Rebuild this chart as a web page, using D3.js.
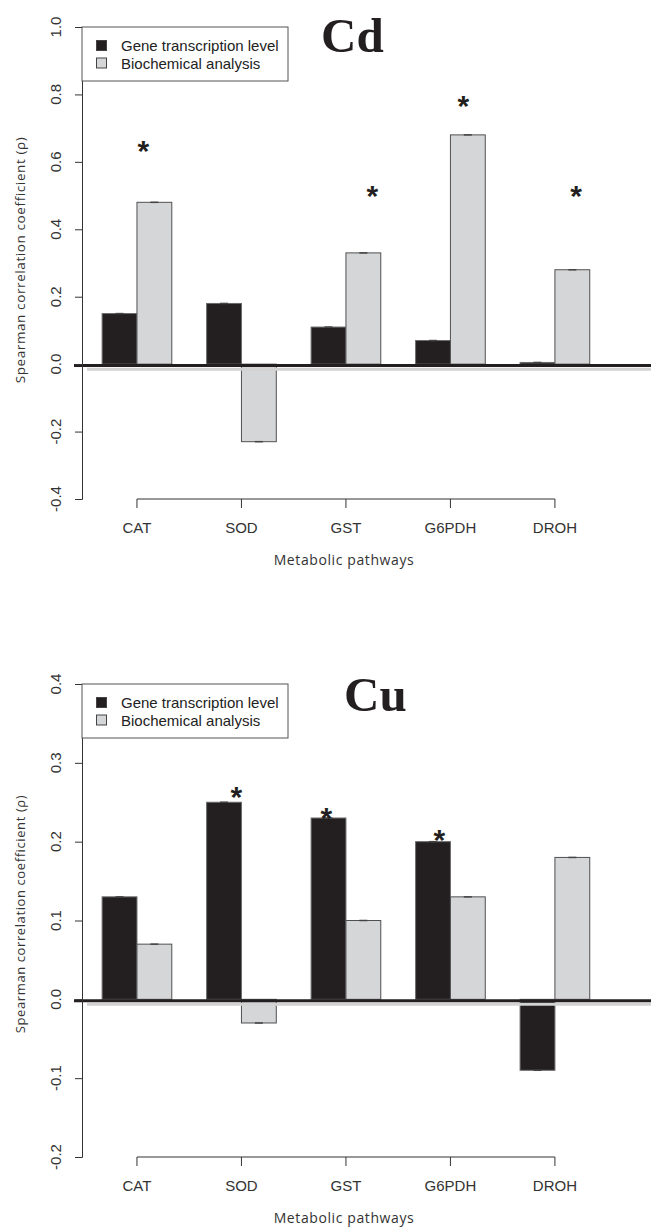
<!DOCTYPE html>
<html>
<head>
<meta charset="utf-8">
<script src="https://cdn.jsdelivr.net/npm/d3@7"></script>
<style>
  body { margin: 0; background: #fff; }
  .tick-label { font-family: "Liberation Sans", Arial, sans-serif; font-size: 15px; fill: #333; }
  .cat-label { font-family: "Liberation Sans", Arial, sans-serif; font-size: 15px; fill: #333; }
  .legend-text { font-family: "Liberation Sans", Arial, sans-serif; font-size: 15px; fill: #222; }
  .axis-title { font-family: "Open Sans", sans-serif; font-size: 14px; fill: #333; letter-spacing: 0.6px; }
  .panel-title { font-family: "Liberation Serif", "Times New Roman", serif; font-weight: bold; font-size: 49px; fill: #231f20; }
  .star { font-family: "Liberation Sans", Arial, sans-serif; font-weight: bold; font-size: 30px; fill: #231f20; }
</style>
</head>
<body>
<div id="chart"></div>
<script>
// data
var categories = ["CAT", "SOD", "GST", "G6PDH", "DROH"];
var seriesNames = ["Gene transcription level", "Biochemical analysis"];

var cdGene = [0.15, 0.18, 0.11, 0.07, 0.005];
var cdBiochem = [0.48, -0.23, 0.33, 0.68, 0.28];
var cdTicks = [-0.4, -0.2, 0.0, 0.2, 0.4, 0.6, 0.8, 1.0];
// stars: [x in bar units, height in rho]
var cdStars = [[2.18, 0.653], [8.76, 0.52], [11.37, 0.786], [14.61, 0.52]];

var cuGene = [0.13, 0.25, 0.23, 0.20, -0.09];
var cuBiochem = [0.07, -0.03, 0.10, 0.13, 0.18];
var cuTicks = [-0.2, -0.1, 0.0, 0.1, 0.2, 0.3, 0.4];
var cuStars = [[4.85, 0.265], [7.44, 0.239], [10.68, 0.211]];

var svgWidth = 651;
var svgHeight = 1228;
var fills = ["#231f20", "#d5d6d8"];

var svg = d3.select("#chart")
    .append("svg")
    .attr("width", svgWidth)
    .attr("height", svgHeight)
    .style("display", "block");

// bar units, R barplot style: width 1, one unit gap between groups
var xScale = d3.scaleLinear()
    .domain([0, 17])
    .range([67.3, 67.3 + 17 * 34.83]);

var axisX = 82;

function drawPanel(p) {
    var g = svg.append("g");
    var yScale = d3.scaleLinear()
        .domain([p.ticks[0], p.ticks[p.ticks.length - 1]])
        .range([p.bottom, p.top]);
    var y0 = yScale(0);

    // bars
    var rows = [];
    categories.forEach(function(c, i) {
        rows.push({cat: c, i: i, s: 0, v: p.gene[i]});
        rows.push({cat: c, i: i, s: 1, v: p.biochem[i]});
    });

    g.selectAll("rect.bar")
        .data(rows)
        .enter()
        .append("rect")
        .attr("class", "bar")
        .attr("x", d => xScale(1 + 3 * d.i + d.s))
        .attr("width", xScale(1) - xScale(0))
        .attr("y", d => Math.min(yScale(d.v), y0))
        .attr("height", d => Math.abs(yScale(d.v) - y0))
        .attr("fill", d => fills[d.s])
        .attr("stroke", d => d.s == 0 ? "#6a6a6a" : "#505050")
        .attr("stroke-width", 1);

    // zero-length error bars at bar ends
    g.selectAll("line.err")
        .data(rows)
        .enter()
        .append("line")
        .attr("x1", d => xScale(1.5 + 3 * d.i + d.s) - 4)
        .attr("x2", d => xScale(1.5 + 3 * d.i + d.s) + 4)
        .attr("y1", d => yScale(d.v))
        .attr("y2", d => yScale(d.v))
        .attr("stroke", "#444")
        .attr("stroke-width", 1.5);

    // zero reference lines
    g.append("line")
        .attr("x1", axisX + 5).attr("x2", svgWidth)
        .attr("y1", y0 + 5).attr("y2", y0 + 5)
        .attr("stroke", "#d2d2d2").attr("stroke-width", 3);
    g.append("line")
        .attr("x1", axisX - 8).attr("x2", svgWidth)
        .attr("y1", y0 + 1.3).attr("y2", y0 + 1.3)
        .attr("stroke", "#231f20").attr("stroke-width", 3);

    // y axis
    var leftAxis = d3.axisLeft(yScale)
        .tickValues(p.ticks)
        .tickSize(7)
        .tickFormat("");
    var ya = g.append("g")
        .attr("transform", `translate(${axisX}, 0)`)
        .call(leftAxis);
    ya.select(".domain").attr("stroke", "#333");
    ya.selectAll(".tick line").attr("stroke", "#333");

    g.selectAll("text.ytick")
        .data(p.ticks)
        .enter()
        .append("text")
        .attr("class", "tick-label")
        .attr("transform", d => `translate(61, ${yScale(d)}) rotate(-90)`)
        .attr("text-anchor", "middle")
        .text(d => d.toFixed(1));

    // x axis, from first to last group center
    var centers = categories.map((c, i) => xScale(2 + 3 * i));
    g.append("line")
        .attr("x1", centers[0]).attr("x2", centers[4])
        .attr("y1", p.bottom).attr("y2", p.bottom)
        .attr("stroke", "#333");
    g.selectAll("line.xtick")
        .data(centers)
        .enter()
        .append("line")
        .attr("x1", d => d).attr("x2", d => d)
        .attr("y1", p.bottom).attr("y2", p.bottom + 9)
        .attr("stroke", "#333");
    g.selectAll("text.cat")
        .data(categories)
        .enter()
        .append("text")
        .attr("class", "cat-label")
        .attr("x", (d, i) => centers[i])
        .attr("y", p.bottom + 34)
        .attr("text-anchor", "middle")
        .text(d => d);

    // axis titles
    g.append("text")
        .attr("class", "axis-title")
        .attr("x", 344)
        .attr("y", p.bottom + 66)
        .attr("text-anchor", "middle")
        .text("Metabolic pathways");
    g.append("text")
        .attr("class", "axis-title")
        .attr("transform", `translate(25, ${p.labelY}) rotate(-90)`)
        .attr("text-anchor", "middle")
        .style("font-size", p.labelSize + "px")
        .text("Spearman correlation coefficient (\u03c1)");

    // significance stars
    g.selectAll("text.star")
        .data(p.stars)
        .enter()
        .append("text")
        .attr("class", "star")
        .attr("x", d => xScale(d[0]))
        .attr("y", d => yScale(d[1]) + 17)
        .attr("text-anchor", "middle")
        .text("*");

    // legend
    var lg = g.append("g").attr("transform", `translate(${axisX}, ${p.top})`);
    lg.append("rect")
        .attr("width", 206).attr("height", 54)
        .attr("fill", "#fff").attr("stroke", "#555");
    seriesNames.forEach(function(name, s) {
        lg.append("rect")
            .attr("x", 14.5).attr("y", 13.5 + s * 17.5)
            .attr("width", 10).attr("height", 10)
            .attr("fill", fills[s]).attr("stroke", "#444");
        lg.append("text")
            .attr("class", "legend-text")
            .attr("x", 39).attr("y", 24 + s * 17.5)
            .text(name);
    });

    // panel title
    g.append("text")
        .attr("class", "panel-title")
        .attr("x", p.titleX)
        .attr("y", p.titleY)
        .text(p.title);
}

drawPanel({
    top: 27, bottom: 499, ticks: cdTicks,
    gene: cdGene, biochem: cdBiochem, stars: cdStars,
    title: "Cd", titleX: 321, titleY: 52, labelY: 260, labelSize: 13.5
});

drawPanel({
    top: 684, bottom: 1157, ticks: cuTicks,
    gene: cuGene, biochem: cuBiochem, stars: cuStars,
    title: "Cu", titleX: 344, titleY: 711, labelY: 914, labelSize: 13
});
</script>
</body>
</html>
